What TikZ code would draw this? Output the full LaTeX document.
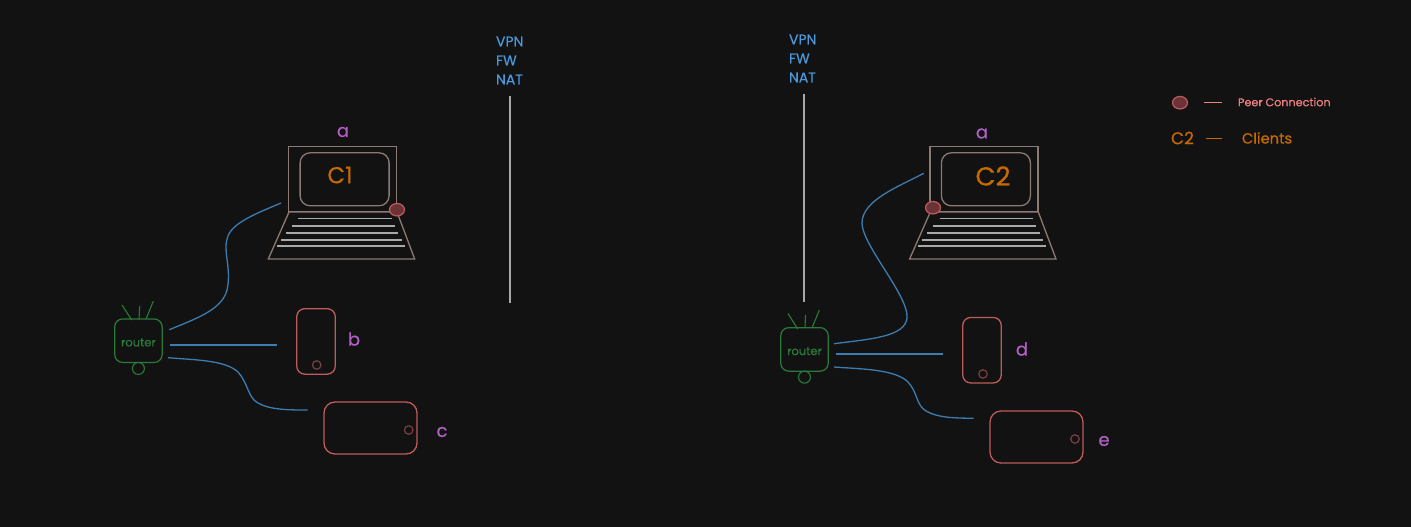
\documentclass[tikz,border=0pt]{standalone}
\usepackage{fontspec}
\setmainfont[FakeBold=0.5]{Poppins}
\usetikzlibrary{shapes.geometric, positioning}
\definecolor{canvas}{HTML}{121212}
\definecolor{shell}{HTML}{8A7A72}
\definecolor{keyline}{HTML}{A8A8A8}
\definecolor{wire}{HTML}{3D7CB0}
\definecolor{device}{HTML}{BE5B5B}
\definecolor{devbtn}{HTML}{7A3F42}
\definecolor{routerg}{HTML}{2C7A3A}
\definecolor{tag}{HTML}{B25FC6}
\definecolor{client}{HTML}{C66A00}
\definecolor{barrier}{HTML}{4A98DE}
\definecolor{peerfill}{HTML}{6B3338}
\definecolor{peertext}{HTML}{EE8080}

\begin{document}
\begin{tikzpicture}[
    x=1pt, y=-1pt,
    every node/.style={inner sep=0pt, outer sep=0pt},
    screen/.style={draw=shell, line width=1.3pt, minimum width=108pt, minimum height=65pt},
    display/.style={draw=shell, line width=1.3pt, rounded corners=10pt, minimum width=89pt, minimum height=53pt},
    keys/.style={draw=keyline, line width=1.3pt},
    base/.style={draw=shell, line width=1.3pt},
    peer/.style={draw=device, fill=peerfill, line width=1.2pt, ellipse, minimum width=15pt, minimum height=12.5pt},
    router/.style={draw=routerg, line width=1.2pt, rounded corners=8pt, minimum width=47.5pt, minimum height=43.5pt, text=routerg},
    routertext/.style={text=routerg, font=\fontsize{11.5}{13}\selectfont},
    led/.style={draw=routerg, line width=1.1pt, circle, minimum size=12pt},
    antenna/.style={draw=routerg, line width=1.1pt},
    phone/.style={draw=device, line width=1.3pt, rounded corners=8pt, minimum width=38.5pt, minimum height=65.5pt},
    tablet/.style={draw=device, line width=1.3pt, rounded corners=11pt, minimum width=93pt, minimum height=52pt},
    homekey/.style={draw=devbtn, line width=1.2pt, circle, minimum size=8.5pt},
    link/.style={draw=wire, line width=1.3pt},
    wall/.style={draw=keyline, line width=1.5pt},
    tagtext/.style={text=tag, font=\fontsize{18}{20}\selectfont},
    clienttext/.style={text=client, font=\fontsize{23}{25}\selectfont},
    walltext/.style={text=barrier, font=\fontsize{14}{19}\selectfont, align=left, anchor=north west}
  ]
    \useasboundingbox[fill=canvas] (0,0) rectangle (1411,527);

    % left side
    \node[walltext] (walltextL) at (496,36.5) {VPN\\FW\\NAT};
    \coordinate (walltopL) at (510,96);
    \coordinate (wallendL) at (510,303);
    \draw[wall] (walltopL) -- (wallendL);

    \node[screen] (screenL) at (342.7,179.2) {};
    \node[display] (displayL) at (344.6,179.3) {};
    \node[clienttext] (clientL) at (340,175) {C1};
    \node[tagtext] (tagA) at (343,132) {a};
    \draw[base] (289,212) -- (268.3,259) -- (414.7,259) -- (397,212) -- cycle;
    \draw[keys] (298.3,218.7) -- (391.7,218.7);
    \draw[keys] (292,226) -- (395,226);
    \draw[keys] (286,233) -- (398.3,233);
    \draw[keys] (281,240) -- (402,240);
    \draw[keys] (277,246) -- (405,246);
    \node[peer] (peerL) at (397,209.7) {};

    \node[router] (routerL) at (138.4,340.7) {};
    \node[routertext] (routerLtext) at (138.4,342.5) {router};
    \node[led, below=0pt of routerL] (ledL) {};
    \coordinate (antLa) at (122,305);
    \coordinate (antLb) at (139.7,306);
    \coordinate (antLc) at (153.3,301.3);
    \draw[antenna] (antLa) -- (131.7,320);
    \draw[antenna] (antLb) -- (139,319);
    \draw[antenna] (antLc) -- (146,319);

    \node[phone] (phoneB) at (316,341.4) {};
    \node[homekey] (keyB) at (316.7,365) {};
    \node[tagtext] (tagB) at (354,339) {b};
    \node[tablet] (tabletC) at (370.5,428) {};
    \node[homekey] (keyC) at (408.7,430) {};
    \node[tagtext] (tagC) at (442,432) {c};

    \coordinate (wireLa) at (169.3,329.7);
    \coordinate (wireLb) at (170,345);
    \coordinate (wireLc) at (168,357.7);
    \coordinate (endA) at (281,203);
    \coordinate (endB) at (276.7,345);
    \coordinate (endC) at (307.7,410);
    \draw[link] (wireLa) .. controls (195,319) and (222,310) .. (227,290) .. controls (232,268) and (222,250) .. (228,236) .. controls (233,222) and (260,212) .. (endA);
    \draw[link] (wireLb) -- (endB);
    \draw[link] (wireLc) .. controls (195,360) and (225,360) .. (238,372) .. controls (248,383) and (248,398) .. (258,403) .. controls (270,410) and (290,410) .. (endC);

    % right side
    \node[walltext] (walltextR) at (789,34.5) {VPN\\FW\\NAT};
    \coordinate (walltopR) at (804,94);
    \coordinate (wallendR) at (804,302);
    \draw[wall] (walltopR) -- (wallendR);

    \node[screen] (screenR) at (984,179.2) {};
    \node[display] (displayR) at (985.9,179.3) {};
    \node[clienttext, font=\fontsize{26}{28}\selectfont] (clientR) at (993,176) {C2};
    \node[tagtext] (tagAR) at (982,133.5) {a};
    \draw[base] (930.3,212) -- (909.6,259) -- (1056,259) -- (1038.3,212) -- cycle;
    \draw[keys] (939.6,218.7) -- (1033,218.7);
    \draw[keys] (933.3,226) -- (1036.3,226);
    \draw[keys] (927.3,233) -- (1039.6,233);
    \draw[keys] (922.3,240) -- (1043.3,240);
    \draw[keys] (918.3,246) -- (1046.3,246);
    \node[peer] (peerR) at (933,207.7) {};

    \node[router] (routerR) at (804.5,349.4) {};
    \node[routertext] (routerRtext) at (804.5,351.2) {router};
    \node[led, below=0pt of routerR] (ledR) {};
    \coordinate (antRa) at (788,313.5);
    \coordinate (antRb) at (805.5,315);
    \coordinate (antRc) at (819.3,310);
    \draw[antenna] (antRa) -- (797.7,329);
    \draw[antenna] (antRb) -- (805,328);
    \draw[antenna] (antRc) -- (812,328);

    \node[phone] (phoneD) at (982,350.2) {};
    \node[homekey] (keyD) at (983,374) {};
    \node[tagtext] (tagD) at (1022,349) {d};
    \node[tablet] (tabletE) at (1036.5,437) {};
    \node[homekey] (keyE) at (1075,439) {};
    \node[tagtext] (tagE) at (1104,441) {e};

    \coordinate (wireRa) at (834,343.7);
    \coordinate (wireRb) at (836,354);
    \coordinate (wireRc) at (834,367);
    \coordinate (endAR) at (923.7,173.3);
    \coordinate (endD) at (943,354);
    \coordinate (endE) at (973.7,418.3);
    \draw[link] (wireRa) .. controls (870,339) and (905,337) .. (907,318) .. controls (909,296) and (862,245) .. (862,223) .. controls (862,200) and (900,186) .. (endAR);
    \draw[link] (wireRb) -- (endD);
    \draw[link] (wireRc) .. controls (860,369) and (895,369) .. (908,382) .. controls (918,393) and (916,405) .. (926,411) .. controls (938,418) and (955,418) .. (endE);

    % legend
    \node[peer] (legendPeer) at (1180,102.7) {};
    \coordinate (dashPeer) at (1204.3,102.7);
    \coordinate (dashPeerEnd) at (1221.7,102.7);
    \draw[draw=peertext, line width=1.2pt] (dashPeer) -- (dashPeerEnd);
    \node[text=peertext, font=\fontsize{11.2}{13}\selectfont, anchor=west] (legendPeerText) at (1238,102) {Peer Connection};
    \node[text=client, font=\fontsize{17}{19}\selectfont, anchor=west] (legendClient) at (1171,138) {C2};
    \coordinate (dashClient) at (1206,138.7);
    \coordinate (dashClientEnd) at (1222,138.7);
    \draw[draw=client, line width=1.2pt] (dashClient) -- (dashClientEnd);
    \node[text=client, font=\fontsize{14.7}{16}\selectfont, anchor=west] (legendClientText) at (1242,138) {Clients};
  \end{tikzpicture}
\end{document}
